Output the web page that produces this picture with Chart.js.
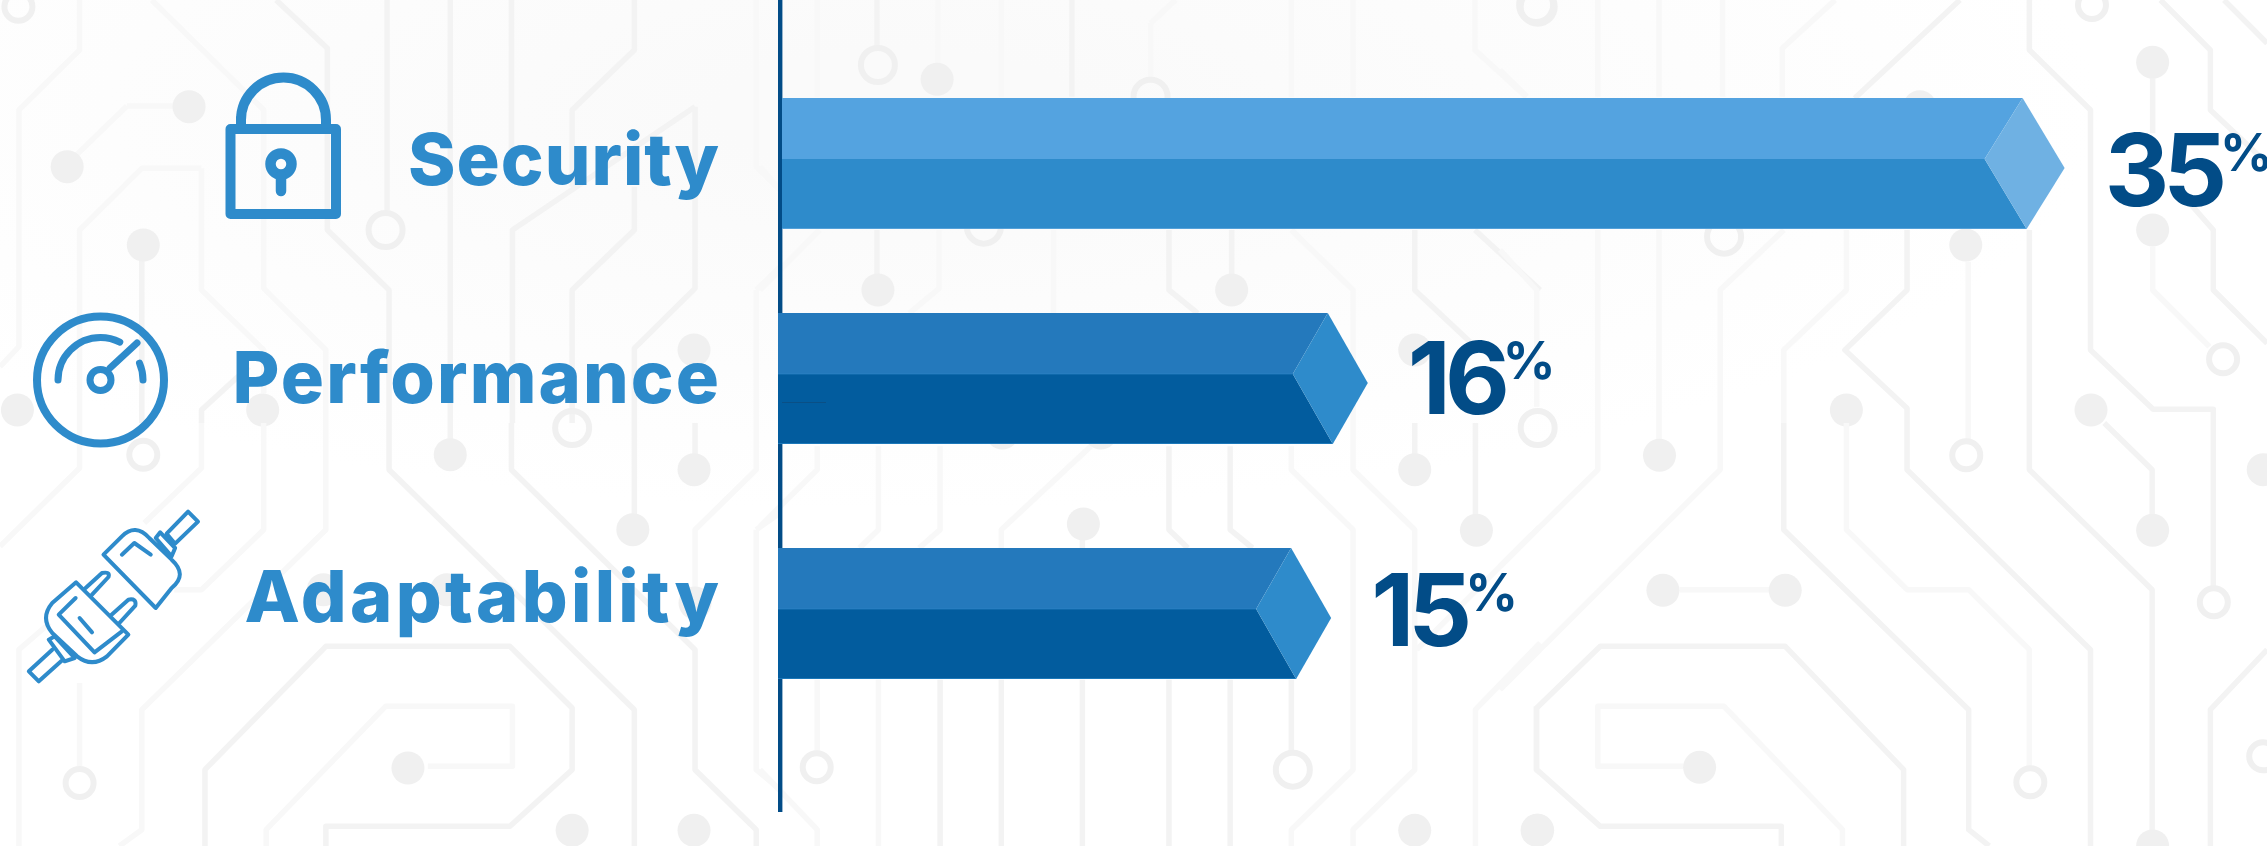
<!DOCTYPE html>
<html>
<head>
<meta charset="utf-8">
<title>Security, Performance, Adaptability</title>
<script src="https://cdn.jsdelivr.net/npm/chart.js@4"></script>
<style>
  html, body { margin: 0; padding: 0; background: #fff; overflow: hidden; }
  #wrap { position: relative; width: 2267px; height: 846px; }
</style>
</head>
<body>
<div id="wrap"><canvas id="chart"></canvas></div>
<script>
const categories = ["Security", "Performance", "Adaptability"];
const shares = [35, 16, 15];

const topColors = ["#54a3e0", "#2479bc", "#2479bc"];
const frontColors = ["#2e8bcb", "#025c9e", "#025c9e"];
const capColors = ["#6fb1e3", "#2e8bcb", "#2e8bcb"];

// the rows are not evenly spaced in the picture, so nudge them off the category centres
const BAR_NUDGE = [0, -10, 0];
const BASE_NUDGE = [1, -3, -3];
const LABEL_NUDGE = [21, 14.5, 8.5];
const LABEL_SPACING = [1, 2.1, 3.3];
const VALUE_NUDGE = [42, 25.5, 32.5];

// how far the cap corners sit back from the tip: top, seam, bottom
const CAP_TOP = [42, 40, 40];
const CAP_SEAM = [80, 75, 75];
const CAP_BOTTOM = [38, 35, 35];

const LABEL_FONT = "800 72px Inter";
const DIGIT_FONT = "700 100px Inter";
const PERCENT_FONT = "700 52px Inter";

// background traces, written in the pixel space of the crop they were read from
const circuit = [
  { ox: 0, oy: 0, sx: 2.01,
    faint: "M160 0V150L38 330V1040L0 1100M305 0L530 330V865L655 1050V1269M405 505H285L160 690V1269M405 505V870L530 1050V1180M255 318H350M255 318L150 470M1520 0V500L1568 570M1520 870L1568 800M1520 870V1269",
    strong: "M555 0L658 145V690L782 870V1269M778 0V630M905 0V1269M1028 0V520M1397 320L1030 690V1269M1275 0V150L1150 330V560M1275 560V690L1150 870V1269M1397 320V865L1275 1045V1269M285 735V1269M405 1269V1230L500 1100",
    dots: [[380, 320], [135, 500], [288, 735], [1395, 1050], [35, 1230], [528, 1230]],
    rings: [[37, 20, 14], [775, 690, 17]] },
  { ox: 0, oy: 423, sx: 2.01,
    faint: "M160 0V135L0 370M405 0V135L290 300M530 0V320L405 500H350M655 0V320L285 860V1220L240 1269M38 1269V680L100 600M160 780V1030M860 1030H1030V850H775L535 1220V1269M1520 320L1568 270M1520 320V1040L1568 1100M1520 0V140L1397 320V530",
    strong: "M782 0V140L1275 860V1269M1028 0V140L1397 680V1040L1520 1220V1269M905 0V50M1275 0V275M1397 0V95M655 1269V1210H1025L1150 1040V855L1025 670H655L412 1040V1269",
    dots: [[905, 95], [1272, 320], [1395, 140], [820, 1035], [650, 500], [898, 500], [1397, 540], [1150, 1222], [1395, 1222]],
    rings: [[288, 95, 14], [1150, 15, 17], [160, 1080, 14]] },
  { ox: 760, oy: 0, sx: 2.01,
    faint: "M115 0V290M358 0V190M485 0V290M785 70V235M785 70L835 0M1068 0V290M1192 0V290M1437 0V150L1540 290M120 690L0 870M590 690V940M1068 690L1192 870V1269M0 500L40 570M360 690V865L300 940",
    strong: "M235 0V140M627 0V290M235 690V825M822 690V870L880 940M948 690V825M1316 690V870L1430 1030M1437 690L1568 870",
    dots: [[356, 238], [237, 870], [948, 870], [1316, 1050]],
    rings: [[237, 195, 17], [785, 290, 17], [450, 680, 17], [1560, 15, 17]] },
  { ox: 760, oy: 423, sx: 2.01,
    faint: "M115 70V140L0 310M238 70V320L200 375M362 70V320L320 375M665 70L485 320V375M0 1040L115 1220V1269M115 770V985M238 770V1269M1068 70V140L1192 320V1040L1068 1220V1269M1192 0V140L1316 320V1040L1192 1220V1269M1568 310L1320 680M1568 660L1438 860V1269M1560 850V1040L1568 1050",
    strong: "M822 70V320L860 375M945 70V320L990 375M1316 0V95M1438 0V275M362 770V1269M485 770V1269M648 770V1269M822 770V1269M945 770V1269M1068 770V985M648 350V375",
    dots: [[650, 303], [1316, 140], [1440, 322], [1316, 1222], [1562, 1222], [487, 30], [685, 30]],
    rings: [[114, 1033, 14], [1071, 1040, 17]] },
  { ox: 1500, oy: 0, sx: 2.044,
    faint: "M200 0V290M325 0V290M455 0V290M685 0L577 145V290M0 750L75 870V1220M200 690V1269M325 690V1269M708 690V870L580 1050V1269M1334 740V870L1450 1040M957 785V1269M0 210L55 290M580 690L450 870V1269",
    strong: "M940 0L725 295M1082 0V150L1207 330V1050L1335 1228H1458V1269M1350 0L1452 150V330L1568 490M1480 0L1568 130M1334 235V400M832 690V870L705 1050L832 1225V1269M1082 690V1269M1380 560L1458 690V870L1568 1030",
    dots: [[1334, 187], [1334, 690], [708, 1230], [1208, 1230], [952, 735], [858, 320]],
    rings: [[77, 20, 17], [1210, 15, 14], [458, 710, 17], [1478, 1078, 14]] },
  { ox: 1500, oy: 423, sx: 2.044,
    faint: "M200 0V140L0 430M325 0V50M450 0V140L0 800M708 0V320L832 500H958L1082 680V1030M375 1030H200V850H458L700 1220V1269M367 500H550M957 0V50",
    strong: "M580 0V320L958 860V1220L1000 1269M832 0V140L1207 680V1269M1082 0V140L1333 500V1230M1235 0L1333 140V275M1458 0V490M575 1269V1210H205L75 1040V855L205 670H583L825 1040V1269M1568 680L1452 860V1269",
    dots: [[326, 97], [1334, 322], [333, 502], [583, 502], [408, 1033], [77, 1222], [1334, 1269], [1560, 140]],
    rings: [[77, 15, 17], [953, 97, 14], [1084, 1078, 14], [1459, 538, 14], [1560, 1000, 14]] }
];

const plugSvg = "M335 332L378 266L398 296L352 362ZM313 345L322 328L352 375L345 400ZM208 395L245 340Q272 300 300 345L345 410Q378 455 345 495L313 555ZM245 395L270 360L303 395M153 478L258 635L215 700Q185 735 155 700L105 630Q80 585 105 540ZM152 525L118 575L190 688L245 625M160 585L185 628M172 495L205 450Q222 445 218 462L185 515M222 578L258 530Q275 525 272 548L240 600M105 680L58 745L78 775L125 712M98 650L110 640L150 705L130 715Z";

function crop(d, ox, oy, sx, sy) {
  const p = new Path2D();
  p.addPath(new Path2D(d), new DOMMatrix([1 / sx, 0, 0, 1 / sy, ox, oy]));
  return p;
}

function drawBackground(ctx, w, h) {
  ctx.fillStyle = "#ffffff";
  ctx.fillRect(0, 0, w, h);
  ctx.save();
  ctx.translate(900, 110);
  ctx.scale(3, 1);
  const glow = ctx.createRadialGradient(0, 0, 60, 0, 0, 400);
  glow.addColorStop(0, "#fafafa");
  glow.addColorStop(1, "#ffffff");
  ctx.fillStyle = glow;
  ctx.fillRect(-400, -400, 800, 800);
  ctx.restore();

  ctx.lineJoin = "round";
  circuit.forEach((c) => {
    ctx.lineWidth = 5.5;
    ctx.strokeStyle = "#f8f8f8";
    ctx.stroke(crop(c.faint, c.ox, c.oy, c.sx, 3));
    ctx.strokeStyle = "#f3f3f3";
    ctx.stroke(crop(c.strong, c.ox, c.oy, c.sx, 3));
    ctx.fillStyle = "#f0f0f0";
    c.dots.forEach(([x, y]) => {
      ctx.beginPath();
      ctx.arc(c.ox + x / c.sx, c.oy + y / 3, 16.5, 0, Math.PI * 2);
      ctx.fill();
    });
    ctx.strokeStyle = "#f0f0f0";
    ctx.lineWidth = 6;
    c.rings.forEach(([x, y, r]) => {
      ctx.beginPath();
      ctx.arc(c.ox + x / c.sx, c.oy + y / 3, r, 0, Math.PI * 2);
      ctx.stroke();
    });
  });
}

function drawIcons(ctx) {
  ctx.save();
  ctx.strokeStyle = ctx.fillStyle = "#2e8bcb";
  ctx.lineCap = "round";
  ctx.lineJoin = "round";

  // padlock
  ctx.lineWidth = 10;
  ctx.strokeRect(230.5, 129, 105.5, 85);
  ctx.beginPath();
  ctx.moveTo(241, 124);
  ctx.lineTo(241, 117);
  ctx.arc(283.5, 120, 42.5, Math.PI, 0);
  ctx.lineTo(326, 124);
  ctx.stroke();
  ctx.lineWidth = 10.5;
  ctx.beginPath();
  ctx.arc(281, 164, 10.5, 0, Math.PI * 2);
  ctx.stroke();
  ctx.beginPath();
  ctx.moveTo(281, 176);
  ctx.lineTo(281, 191);
  ctx.stroke();

  // gauge
  const gx = 100.5, gy = 380;
  ctx.lineWidth = 8;
  ctx.beginPath();
  ctx.arc(gx, gy, 63.5, 0, Math.PI * 2);
  ctx.stroke();
  ctx.lineWidth = 7;
  ctx.beginPath();
  ctx.arc(gx, gy, 42.5, Math.PI, Math.PI * 1.65);
  ctx.stroke();
  ctx.beginPath();
  ctx.arc(gx, gy, 42.5, Math.PI * 1.87, 0);
  ctx.stroke();
  ctx.beginPath();
  ctx.arc(gx, gy, 10.5, 0, Math.PI * 2);
  ctx.stroke();
  ctx.beginPath();
  ctx.moveTo(110, 368);
  ctx.lineTo(137, 343);
  ctx.stroke();

  // plug
  ctx.lineWidth = 4;
  ctx.stroke(crop(plugSvg, 0, 423, 2.01, 3));
  ctx.restore();
}

// splits each bar into a two-tone prism with an arrow cap; the tip sits on the value
const prismBars = {
  id: "prismBars",
  beforeDatasetDraw(chart, args) {
    const { ctx } = chart;
    const ds = chart.data.datasets[args.index];
    args.meta.data.forEach((el, i) => {
      const top = el.y - el.height / 2 + BAR_NUDGE[i];
      const bottom = top + el.height;
      const left = el.base + BASE_NUDGE[i];
      const tip = el.x;
      const seam = top + 61;
      ctx.fillStyle = ds.topColors[i];
      ctx.beginPath();
      ctx.moveTo(left, top);
      ctx.lineTo(tip - CAP_TOP[i], top);
      ctx.lineTo(tip - CAP_SEAM[i], seam);
      ctx.lineTo(left, seam);
      ctx.closePath();
      ctx.fill();
      ctx.fillStyle = ds.backgroundColor[i];
      ctx.beginPath();
      ctx.moveTo(left, seam);
      ctx.lineTo(tip - CAP_SEAM[i], seam);
      ctx.lineTo(tip - CAP_BOTTOM[i], bottom);
      ctx.lineTo(left, bottom);
      ctx.closePath();
      ctx.fill();
      ctx.fillStyle = ds.capColors[i];
      ctx.beginPath();
      ctx.moveTo(tip - CAP_TOP[i], top);
      ctx.lineTo(tip, top + 70);
      ctx.lineTo(tip - CAP_BOTTOM[i], bottom);
      ctx.lineTo(tip - CAP_SEAM[i], seam);
      ctx.closePath();
      ctx.fill();

      // thin lighter edges on the faces
      ctx.globalAlpha = 0.6;
      if (i > 0) ctx.fillRect(left, seam - 0.5, tip - CAP_SEAM[i] - left, 1);
      ctx.fillRect(left, bottom - 1, tip - CAP_BOTTOM[i] - left, 1);
      ctx.globalAlpha = 1;
    });
    // stray hairline inside the Performance bar
    ctx.fillStyle = "#0a4f85";
    ctx.fillRect(782, 402, 44, 1);
    return false; // default rectangles stay off
  },
  afterDatasetsDraw(chart) {
    const { ctx } = chart;
    const meta = chart.getDatasetMeta(0);
    const yScale = chart.scales.y;
    ctx.save();
    ctx.textBaseline = "alphabetic";
    categories.forEach((name, i) => {
      const cy = yScale.getPixelForValue(i);
      ctx.textAlign = "right";
      ctx.fillStyle = "#2e8bcb";
      ctx.font = LABEL_FONT;
      ctx.letterSpacing = LABEL_SPACING[i] + "px";
      ctx.fillText(name, 719 + LABEL_SPACING[i], cy + LABEL_NUDGE[i]);

      ctx.textAlign = "left";
      ctx.fillStyle = "#024c87";
      const x = meta.data[i].x + 40;
      const y = cy + VALUE_NUDGE[i];
      ctx.font = DIGIT_FONT;
      ctx.letterSpacing = "-6px";
      const digits = String(shares[i]);
      ctx.fillText(digits, x, y);
      const dw = ctx.measureText(digits).width;
      ctx.font = PERCENT_FONT;
      ctx.letterSpacing = "0px";
      ctx.fillText("%", x + dw - 1, y - 35);
    });
    ctx.restore();
  }
};

const sceneBack = {
  id: "sceneBack",
  beforeDraw(chart) {
    const { ctx, width, height } = chart;
    drawBackground(ctx, width, height);
    drawIcons(ctx);
    // axis line runs past the last row, down to y 812
    const x0 = chart.scales.x.getPixelForValue(0);
    ctx.fillStyle = "#024c87";
    ctx.fillRect(x0 - 3, 0, 4.4, 812);
  }
};

new Chart(document.getElementById("chart"), {
  type: "bar",
  data: {
    labels: categories,
    datasets: [{
      data: shares,
      backgroundColor: frontColors,
      topColors,
      capColors,
      borderWidth: 0,
      barThickness: 131
    }]
  },
  options: {
    indexAxis: "y",
    responsive: true,
    maintainAspectRatio: false,
    animation: false,
    layout: { padding: { left: 781, right: 19, top: 51, bottom: 120 } },
    plugins: { legend: { display: false }, tooltip: { enabled: false } },
    scales: {
      x: { display: false, min: 0, max: 40 },
      y: { display: false }
    }
  },
  plugins: [sceneBack, prismBars]
});
</script>
</body>
</html>
